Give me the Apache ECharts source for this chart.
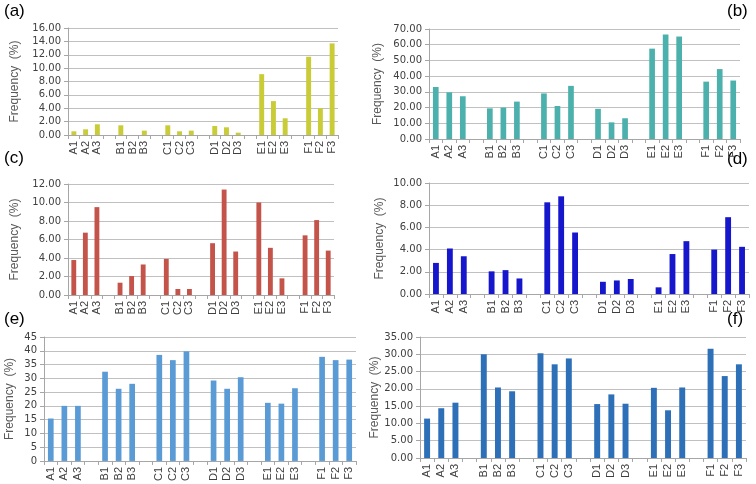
<!DOCTYPE html>
<html><head><meta charset="utf-8">
<script src="https://cdn.jsdelivr.net/npm/echarts@6/dist/echarts.min.js"></script>
<style>html,body{margin:0;padding:0;background:#fff}#c{width:756px;height:484px}</style>
</head><body><div id="c"></div>
<script>
// Categories (blank entries are the gaps between groups)
const categories = ['A1','A2','A3','','B1','B2','B3','','C1','C2','C3','','D1','D2','D3','','E1','E2','E3','','F1','F2','F3'];
// Values per panel, in order A1..F3 (18 values)
const valuesA = [0.55,0.85,1.6, 1.45,0,0.65, 1.45,0.55,0.65, 1.35,1.15,0.35, 9.1,5.07,2.5, 11.7,4.0,13.7];
const valuesB = [33.1,29.7,27.2, 19.5,20.0,23.8, 29.0,21.0,33.8, 19.2,10.6,13.2, 57.5,66.5,65.2, 36.5,44.5,37.2];
const valuesC = [3.78,6.74,9.5, 1.33,2.05,3.3, 3.9,0.65,0.65, 5.6,11.4,4.7, 10.0,5.1,1.8, 6.45,8.1,4.8];
const valuesD = [2.8,4.1,3.4, 2.04,2.15,1.4, 8.26,8.8,5.54, 1.1,1.22,1.35, 0.6,3.6,4.76, 4.0,6.92,4.25];
const valuesE = [15.4,20.0,20.0, 32.4,26.2,28.0, 38.5,36.6,39.8, 29.2,26.2,30.4, 21.1,20.8,26.4, 37.8,36.6,36.8];
const valuesF = [11.4,14.4,16.0, 30.0,20.4,19.3, 30.3,27.1,28.8, 15.6,18.4,15.7, 20.3,13.8,20.4, 31.6,23.7,27.1];
const panelLabels = ['(a)','(b)','(c)','(d)','(e)','(f)'];
const yMax = [16,70,12,10,45,35];
const yStep = [2,10,2,2,5,5];
const yDecimals = [2,2,2,2,0,2];
const yName = 'Frequency  (%)';

function withGaps(vals){
  const out=[]; let k=0;
  categories.forEach(c=>{ out.push(c==='' ? null : vals[k++]); });
  return out;
}
const allValues=[valuesA,valuesB,valuesC,valuesD,valuesE,valuesF];
const colors=['#c9cc36','#4cb1ac','#c4544a','#1616cc','#5b9bd5','#2e70b8'];
const grids=[
  {left:68,top:28,width:270,height:107},
  {left:429,top:29,width:311,height:110},
  {left:68,top:184,width:266,height:111},
  {left:429,top:183,width:320,height:111},
  {left:44,top:337,width:312,height:125},
  {left:420,top:337,width:326,height:121}
];
const nameGap=[47,45,47,43,28,36];
const labelPos=[[4,3],[727,3],[4,150],[727,151],[4,311],[727,311]];

const option={
  animation:false,
  grid:grids,
  xAxis:grids.map((g,i)=>({
    type:'category',gridIndex:i,data:categories,boundaryGap:true,
    axisLine:{lineStyle:{color:'#a6a6a6'}},
    axisTick:{show:true,interval:0,length:4,lineStyle:{color:'#a6a6a6'}},
    axisLabel:{interval:0,rotate:90,fontFamily:'Liberation Sans',fontSize:11,color:'#404040',margin:6}
  })),
  yAxis:grids.map((g,i)=>({
    type:'value',gridIndex:i,min:0,max:yMax[i],interval:yStep[i],
    name:yName,nameLocation:'middle',nameRotate:90,nameGap:nameGap[i],
    nameTextStyle:{fontFamily:'Liberation Sans',fontSize:12,color:'#595959'},
    axisLine:{show:true,lineStyle:{color:'#a6a6a6'}},
    axisTick:{show:true,length:4,lineStyle:{color:'#a6a6a6'}},
    splitLine:{lineStyle:{color:'#c0c0c0'}},
    axisLabel:{fontFamily:'DejaVu Sans',fontSize:10,color:'#404040',margin:7,
      formatter:v=>v.toFixed(yDecimals[i])}
  })),
  series:allValues.map((v,i)=>({
    type:'bar',xAxisIndex:i,yAxisIndex:i,data:withGaps(v),barWidth:'42%',
    itemStyle:{color:colors[i]}
  })),
  graphic:panelLabels.map((t,i)=>({
    type:'text',left:labelPos[i][0],top:labelPos[i][1],
    style:{text:t,font:'17px "Liberation Sans"',fill:'#000'}
  }))
};
const chart=echarts.init(document.getElementById('c'),null,{renderer:'canvas'});
chart.setOption(option);
</script></body></html>
